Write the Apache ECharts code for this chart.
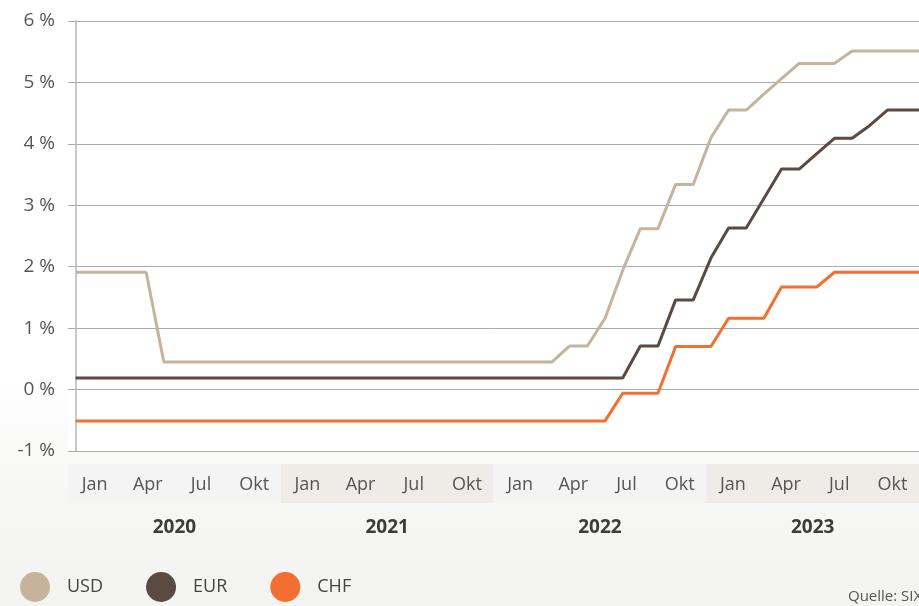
<!DOCTYPE html>
<html>
<head>
<meta charset="utf-8">
<script src="https://cdn.jsdelivr.net/npm/echarts@6/dist/echarts.min.js"></script>
<style>
  html, body { margin: 0; padding: 0; }
  body { width: 919px; height: 606px; overflow: hidden;
         background: linear-gradient(to bottom, #ffffff 0%, #ffffff 62%, #f7f7f6 80%, #f3f3f2 100%); }
  #chart { width: 919px; height: 606px; }
</style>
</head>
<body>
<div id="chart"></div>
<script>
// Monthly points, Jan 2020 .. Jan 2024 (last point sits just past the visible edge)
const months = [
  'Jan 2020','Feb 2020','Mär 2020','Apr 2020','Mai 2020','Jun 2020','Jul 2020','Aug 2020','Sep 2020','Okt 2020','Nov 2020','Dez 2020',
  'Jan 2021','Feb 2021','Mär 2021','Apr 2021','Mai 2021','Jun 2021','Jul 2021','Aug 2021','Sep 2021','Okt 2021','Nov 2021','Dez 2021',
  'Jan 2022','Feb 2022','Mär 2022','Apr 2022','Mai 2022','Jun 2022','Jul 2022','Aug 2022','Sep 2022','Okt 2022','Nov 2022','Dez 2022',
  'Jan 2023','Feb 2023','Mär 2023','Apr 2023','Mai 2023','Jun 2023','Jul 2023','Aug 2023','Sep 2023','Okt 2023','Nov 2023','Dez 2023',
  'Jan 2024'
];
const usd = [
  1.91, 1.91, 1.91, 1.91, 1.91, 0.45, 0.45, 0.45, 0.45, 0.45, 0.45, 0.45,
  0.45, 0.45, 0.45, 0.45, 0.45, 0.45, 0.45, 0.45, 0.45, 0.45, 0.45, 0.45,
  0.45, 0.45, 0.45, 0.45, 0.71, 0.71, 1.16, 1.94, 2.62, 2.62, 3.34, 3.34,
  4.10, 4.55, 4.55, 4.81, 5.06, 5.31, 5.31, 5.31, 5.51, 5.51, 5.51, 5.51,
  5.51
];
const eur = [
  0.19, 0.19, 0.19, 0.19, 0.19, 0.19, 0.19, 0.19, 0.19, 0.19, 0.19, 0.19,
  0.19, 0.19, 0.19, 0.19, 0.19, 0.19, 0.19, 0.19, 0.19, 0.19, 0.19, 0.19,
  0.19, 0.19, 0.19, 0.19, 0.19, 0.19, 0.19, 0.19, 0.71, 0.71, 1.46, 1.46,
  2.14, 2.63, 2.63, 3.11, 3.59, 3.59, 3.84, 4.09, 4.09, 4.30, 4.55, 4.55,
  4.55
];
const chf = [
  -0.51, -0.51, -0.51, -0.51, -0.51, -0.51, -0.51, -0.51, -0.51, -0.51, -0.51, -0.51,
  -0.51, -0.51, -0.51, -0.51, -0.51, -0.51, -0.51, -0.51, -0.51, -0.51, -0.51, -0.51,
  -0.51, -0.51, -0.51, -0.51, -0.51, -0.51, -0.51, -0.06, -0.06, -0.06, 0.70, 0.70,
  0.70, 1.16, 1.16, 1.16, 1.67, 1.67, 1.67, 1.91, 1.91, 1.91, 1.91, 1.91,
  1.91
];
const years = ['2020', '2021', '2022', '2023'];
const quarterLabels = ['Jan','Apr','Jul','Okt','Jan','Apr','Jul','Okt','Jan','Apr','Jul','Okt','Jan','Apr','Jul','Okt'];
const yTicks = { min: -1, max: 6, step: 1 };
const seriesNames = ['USD', 'EUR', 'CHF'];
const colors = ['#c5b49b', '#5a4a41', '#f26f31'];
const source = 'Quelle: SIX';

const FONT = "'Open Sans', 'DejaVu Sans', sans-serif";
const toPairs = arr => arr.map((v, i) => [i, v]);

const chart = echarts.init(document.getElementById('chart'), null, { renderer: 'canvas' });
chart.setOption({
  backgroundColor: 'transparent',
  animation: false,
  color: colors,
  title: {
    text: source,
    left: 843, top: 584,
    textStyle: { fontFamily: FONT, fontSize: 15, fontWeight: 'normal', color: '#555' }
  },
  legend: {
    left: 20, top: 572, padding: 0,
    itemWidth: 30, itemHeight: 30, itemGap: 43,
    icon: 'circle',
    data: seriesNames,
    textStyle: { fontFamily: FONT, fontSize: 18, color: '#444', padding: [8, 0, 0, 12] }
  },
  grid: [
    { left: 68, top: 21, width: 851, height: 430,
      show: true, backgroundColor: '#ffffff', borderWidth: 0 },
    { left: 68, top: 464, width: 851, height: 39 }
  ],
  xAxis: [
    { type: 'value', gridIndex: 0, min: -0.43, max: 47.79,
      axisLine: { show: false }, axisTick: { show: false },
      axisLabel: { show: false }, splitLine: { show: false } },
    { type: 'category', gridIndex: 1, data: years, position: 'bottom',
      axisLine: { show: false }, axisTick: { show: false },
      axisLabel: { fontFamily: FONT, fontSize: 19, fontWeight: 'bold', color: '#3c3c3c', margin: 15 },
      splitArea: { show: true, areaStyle: { color: ['#f4f4f4', '#efece7'] } } },
    { type: 'category', gridIndex: 1, data: quarterLabels, position: 'top',
      axisLine: { show: false }, axisTick: { show: false },
      axisLabel: { inside: true, interval: 0, fontFamily: FONT, fontSize: 18, color: '#555', margin: 12 } }
  ],
  yAxis: [
    { type: 'value', gridIndex: 0, min: yTicks.min, max: yTicks.max, interval: yTicks.step,
      axisLine: { show: true, lineStyle: { color: '#b4b4b8', width: 1.5 } },
      axisTick: { show: false },
      splitLine: { lineStyle: { color: '#ababab', width: 1 } },
      axisLabel: { formatter: v => v + ' %', fontFamily: FONT, fontSize: 19, color: '#555', margin: 13 } },
    { type: 'value', gridIndex: 1, show: false, min: 0, max: 1 }
  ],
  series: [usd, eur, chf].map((arr, i) => ({
    name: seriesNames[i],
    type: 'line',
    xAxisIndex: 0, yAxisIndex: 0,
    data: toPairs(arr),
    clip: false,
    showSymbol: false,
    symbol: 'circle',
    lineStyle: { width: 3, color: colors[i] },
    itemStyle: { color: colors[i] },
    z: 3 - i
  }))
});
</script>
</body>
</html>
